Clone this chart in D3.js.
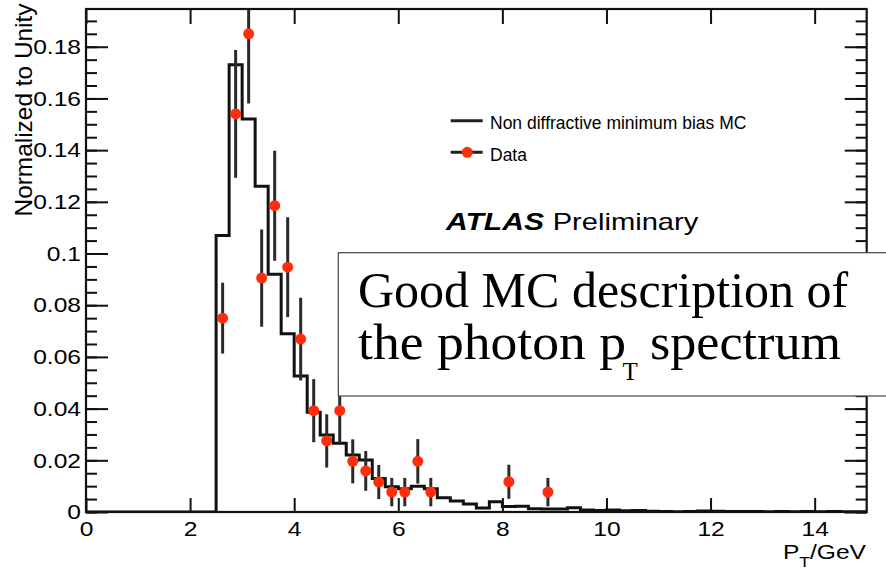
<!DOCTYPE html>
<html>
<head>
<meta charset="utf-8">
<script src="https://cdn.jsdelivr.net/npm/d3@7"></script>
<style>
  html, body { margin: 0; padding: 0; background: #fff; }
  svg { display: block; }
</style>
</head>
<body>
<svg id="chart" width="886" height="568" font-family="Liberation Sans, Arial, Helvetica, sans-serif"></svg>
<script>
// Photon pT spectrum: minimum-bias MC histogram vs. data points

// MC histogram: bins of width 0.25 GeV starting at 2.5 GeV
const mcBinLow = d3.range(2.5, 15, 0.25);
const mcValues = [
  0.107, 0.173, 0.152, 0.126, 0.092, 0.069, 0.0526, 0.0386, 0.0298, 0.0266,
  0.0221, 0.0201, 0.0130, 0.0098, 0.0090, 0.0100, 0.0090, 0.0055, 0.0043, 0.0031,
  0.0015, 0.0040, 0.0021, 0.0022, 0.0013, 0.0012, 0.0012, 0.0016, 0.0008, 0.0006,
  0.0008, 0.0005, 0.0006, 0.0003, 0.0002, 0.0001, 0.0002, 0.0004, 0.0003, 0.0002,
  0.0002, 0.0002, 0.0001, 0.0002, 0.0001, 0.0002, 0.0001, 0.0002, 0.0001, 0.0001
];

// Data points (bin centres), values and errors
const dataX = [2.625, 2.875, 3.125, 3.375, 3.625, 3.875, 4.125, 4.375, 4.625, 4.875,
               5.125, 5.375, 5.625, 5.875, 6.125, 6.375, 6.625, 8.125, 8.875];
const dataY = [0.075, 0.154, 0.185, 0.0905, 0.1185, 0.0947, 0.0669, 0.0392, 0.0275, 0.0392,
               0.0196, 0.0159, 0.0116, 0.0077, 0.0077, 0.0196, 0.0077, 0.0117, 0.0077];
const dataErr = [0.0137, 0.0247, 0.027, 0.0188, 0.0213, 0.0193, 0.016, 0.0122, 0.0103, 0.0125,
                 0.0085, 0.0077, 0.0066, 0.0055, 0.0055, 0.0086, 0.0055, 0.0066, 0.0055];

// Axis ticks
const xTicks = [0, 2, 4, 6, 8, 10, 12, 14];
const yTicks = [0, 0.02, 0.04, 0.06, 0.08, 0.1, 0.12, 0.14, 0.16, 0.18];
const yMinorTicks = d3.range(0, 0.1901, 0.005);

const legendLabels = ["Non diffractive minimum bias MC", "Data"];

const svg = d3.select("#chart");
const L = 86, R = 866.7, T = 9, B = 512;

const x = d3.scaleLinear().domain([0, 15]).range([L, R]);
const y = d3.scaleLinear().domain([0, 0.1946]).range([B, T]);

const ink = "#111";
const red = "#ff2d0a";
const sans = "Liberation Sans, Arial, Helvetica, sans-serif";
const serif = "Liberation Serif, Times New Roman, serif";

svg.append("defs").append("clipPath").attr("id", "plotclip")
  .append("rect").attr("x", L).attr("y", T).attr("width", R - L).attr("height", B - T);

// stretch a text element horizontally by a factor
function stretch(sel, f) {
  sel.each(function () {
    const w = this.getComputedTextLength();
    d3.select(this).attr("textLength", w * f).attr("lengthAdjust", "spacingAndGlyphs");
  });
}

// ---- axes ----
svg.append("g").attr("transform", `translate(${L},0)`)
  .call(d3.axisLeft(y).tickValues(yMinorTicks).tickSizeInner(-11).tickSizeOuter(0).tickFormat(""));
const yMajor = svg.append("g").attr("transform", `translate(${L},0)`)
  .call(d3.axisLeft(y).tickValues(yTicks).tickSizeInner(-22).tickSizeOuter(0).tickPadding(5)
    .tickFormat(d => d === 0 ? "0" : d3.format("~g")(d)));
svg.append("g").attr("transform", `translate(${R},0)`)
  .call(d3.axisRight(y).tickValues(yMinorTicks).tickSizeInner(-11).tickSizeOuter(0).tickFormat(""));
svg.append("g").attr("transform", `translate(${R},0)`)
  .call(d3.axisRight(y).tickValues(yTicks).tickSizeInner(-22).tickSizeOuter(0).tickFormat(""));
const xBottom = svg.append("g").attr("transform", `translate(0,${B})`)
  .call(d3.axisBottom(x).tickValues(xTicks).tickSizeInner(-14).tickSizeOuter(0).tickPadding(9)
    .tickFormat(d3.format("d")));
svg.append("g").attr("transform", `translate(0,${T})`)
  .call(d3.axisTop(x).tickValues(xTicks).tickSizeInner(-15).tickSizeOuter(0).tickFormat(""));

svg.selectAll(".domain").remove();
svg.selectAll(".tick line").attr("stroke", ink).attr("stroke-width", 2);
[yMajor, xBottom].forEach(g => g.selectAll("text")
  .attr("font-size", 21).attr("font-family", sans).attr("fill", "#000"));
yMajor.selectAll("text").call(stretch, 1.17);
xBottom.selectAll("text").call(stretch, 1.17);

// ---- MC histogram ----
const histPts = [[0, 0], [2.5, 0]];
mcBinLow.forEach((lo, i) => { histPts.push([lo, mcValues[i]]); });
histPts.push([15, mcValues[mcValues.length - 1]]);
const stepLine = d3.line().x(d => x(d[0])).y(d => y(d[1])).curve(d3.curveStepAfter);
svg.append("path")
  .attr("clip-path", "url(#plotclip)")
  .attr("d", stepLine(histPts))
  .attr("fill", "none").attr("stroke", ink).attr("stroke-width", 3).attr("stroke-linejoin", "miter");

// ---- data with error bars ----
const pts = dataX.map((d, i) => ({ x: d, y: dataY[i], e: dataErr[i] }));
const dataG = svg.append("g").attr("clip-path", "url(#plotclip)");
dataG.selectAll("line.err").data(pts).join("line").attr("class", "err")
  .attr("x1", d => x(d.x)).attr("x2", d => x(d.x))
  .attr("y1", d => y(d.y - d.e)).attr("y2", d => y(d.y + d.e))
  .attr("stroke", "#2a2a2a").attr("stroke-width", 3);
dataG.selectAll("circle").data(pts).join("circle")
  .attr("cx", d => x(d.x)).attr("cy", d => y(d.y)).attr("r", 5.5).attr("fill", red);

// ---- frame ----
svg.append("rect").attr("x", L).attr("y", T).attr("width", R - L).attr("height", B - T)
  .attr("fill", "none").attr("stroke", ink).attr("stroke-width", 2.2);

// ---- axis titles ----
svg.append("text")
  .attr("transform", "translate(31.7,3.5) rotate(-90)")
  .attr("text-anchor", "end").attr("font-size", 24)
  .attr("textLength", 213).attr("lengthAdjust", "spacingAndGlyphs")
  .text("Normalized to Unity");

const xt = svg.append("g").attr("transform", "translate(866,558.5) scale(1.17,1)")
  .append("text").attr("x", 0).attr("y", 0).attr("text-anchor", "end").attr("font-size", 21);
xt.append("tspan").text("P");
xt.append("tspan").attr("font-size", 15).attr("dy", 8).text("T");
xt.append("tspan").attr("dy", -8).text("/GeV");

// ---- legend ----
const leg = svg.append("g");
leg.append("line").attr("x1", 450.7).attr("x2", 482.7).attr("y1", 120.7).attr("y2", 120.7)
  .attr("stroke", "#222").attr("stroke-width", 3);
leg.append("text").attr("x", 490).attr("y", 129).attr("font-size", 17.5).text(legendLabels[0]);
leg.append("line").attr("x1", 450.7).attr("x2", 482.7).attr("y1", 152.3).attr("y2", 152.3)
  .attr("stroke", "#222").attr("stroke-width", 3);
leg.append("circle").attr("cx", 467.3).attr("cy", 152.3).attr("r", 5.5).attr("fill", red);
leg.append("text").attr("x", 490).attr("y", 160.5).attr("font-size", 17.5).text(legendLabels[1]);

// ---- ATLAS label ----
svg.append("text").attr("x", 446).attr("y", 230).attr("font-size", 24)
  .attr("font-weight", "bold").attr("font-style", "italic")
  .attr("textLength", 98).attr("lengthAdjust", "spacingAndGlyphs").text("ATLAS");
svg.append("text").attr("x", 552.7).attr("y", 230).attr("font-size", 24)
  .attr("textLength", 145.6).attr("lengthAdjust", "spacingAndGlyphs").text("Preliminary");

// ---- comment box ----
const box = svg.append("g").attr("font-family", serif).attr("fill", "#000");
box.append("rect").attr("x", 338.3).attr("y", 252.7).attr("width", 600).attr("height", 143.3)
  .attr("fill", "#fff").attr("stroke", "#444").attr("stroke-width", 1.2);
box.append("text").attr("x", 358).attr("y", 306.5).attr("font-size", 50)
  .text("Good MC description of");
box.append("text").attr("x", 358).attr("y", 358.5).attr("font-size", 50)
  .attr("textLength", 268).attr("lengthAdjust", "spacingAndGlyphs").text("the photon p");
box.append("text").attr("x", 622.5).attr("y", 380).attr("font-size", 25).text("T");
box.append("text").attr("x", 650).attr("y", 358.5).attr("font-size", 50)
  .attr("textLength", 191).attr("lengthAdjust", "spacingAndGlyphs").text("spectrum");
</script>
</body>
</html>
